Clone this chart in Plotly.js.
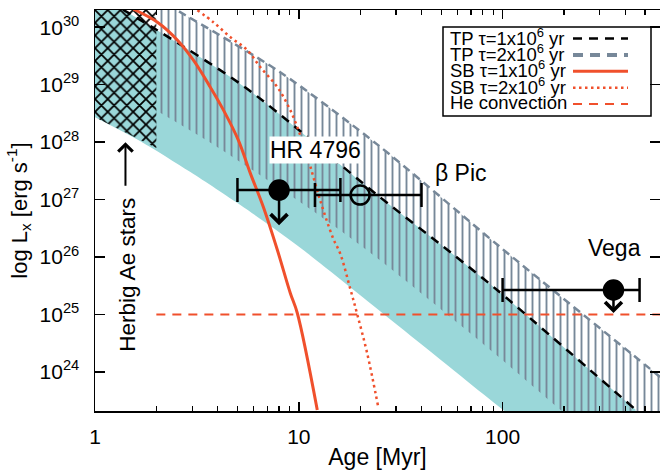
<!DOCTYPE html>
<html><head><meta charset="utf-8">
<script src="https://cdn.plot.ly/plotly-3.0.1.min.js"></script>
<style>html,body{margin:0;padding:0;background:#fff}#chart{width:660px;height:473px}</style>
</head><body><div id="chart"></div>
<script>
// ---------- data (age in Myr, log10 Lx in erg/s) ----------
const tp1Age      = [1.0, 2.02, 5.53, 24.3, 55.3, 94.0, 451];
const tp1LogL     = [30.59, 29.948, 28.939, 27.078, 26.087, 25.426, 23.339];
const tp1LowAge   = [1.0, 1.671, 2.939, 5.167, 7.499, 10.52, 100.6, 300];
const tp1LowLogL  = [28.435, 28.017, 27.478, 26.904, 26.504, 26.122, 23.339, 22.0];
const tp2Age      = [2.0, 2.78, 8.11, 24.5, 97.2, 436, 592];
const tp2LogL     = [30.5, 30.209, 29.217, 27.948, 26.174, 24.296, 23.913];
const tp2LowAge   = [2.0, 3.99, 11.0, 22.5, 61.9, 106.4, 185, 600];
const tp2LowLogL  = [28.55, 27.913, 26.870, 26.070, 24.817, 24.122, 23.391, 21.9];
const sb1Age      = [1.544, 2.024, 2.54, 3.04, 3.68, 4.27, 5.05, 5.78, 6.70, 7.85, 9.08, 9.83, 12.32];
const sb1LogL     = [30.313, 30.087, 29.774, 29.426, 28.957, 28.557, 28.035, 27.461, 26.870, 26.122, 25.374, 25.026, 23.339];
const sb2Age      = [3.18, 3.81, 4.62, 5.59, 6.48, 7.85, 9.08, 10.17, 11.0, 12.75, 14.76, 15.97, 17.88, 19.36, 21.67, 24.53];
const sb2LogL     = [30.296, 30.087, 29.826, 29.6, 29.304, 28.957, 28.557, 28.12, 27.76, 26.98, 26.32, 26.06, 25.45, 25.0, 24.32, 23.391];
const heAge       = [2, 592];
const heLogL      = [25, 25];
const herbigAge   = [1, 2];
const herbigLow   = [28.435, 27.9];
const herbigHigh  = [30.6, 30.6];
const starNames   = ['HR 4796', 'β Pic', 'Vega'];
const starAge     = [8, 20, 350];
const starAgeLo   = [5, 12, 100];
const starAgeHi   = [16, 40, 470];
const starLogL    = [27.165, 27.078, 25.426];
const starIsLimit = [true, false, true];
const limitDex    = [0.61, 0, 0.40];
const legendLabels = ['TP τ=1x10<sup>6</sup> yr', 'TP τ=2x10<sup>6</sup> yr',
                      'SB τ=1x10<sup>6</sup> yr', 'SB τ=2x10<sup>6</sup> yr', 'He convection'];
const yTickPow    = [24, 25, 26, 27, 28, 29, 30];
const xTickVals   = [1, 10, 100];
const xMinorVals  = [2,3,4,5,6,7,8,9,20,30,40,50,60,70,80,90,200,300,400,500];

// ---------- styles ----------
const FONT = 'Liberation Sans, Arial, Helvetica, sans-serif';
const CYAN = '#9ad7d9';
const SLATE = '#778899';
const RED = '#f0502c';
const pw = a => a.map(v => Math.pow(10, v));
const plotStyles = [
  {color: 'black', width: 2.5, dash: '9px,7px', shape: 'spline', smoothing: 0.8},
  {color: SLATE, width: 2.5, dash: '8px,5px', shape: 'spline', smoothing: 0.8},
  {color: RED, width: 3, dash: 'solid', shape: 'spline', smoothing: 1},
  {color: RED, width: 2.5, dash: '2.5px,3.5px', shape: 'spline', smoothing: 1},
  {color: RED, width: 2, dash: '9px,7px'}
];
const legendStyles = [
  {color: 'black', width: 2.5, dash: '9px,7px'},
  {color: SLATE, width: 4, dash: '10px,7px'},
  {color: RED, width: 3, dash: 'solid'},
  {color: RED, width: 2.5, dash: '2.5px,3.5px'},
  {color: RED, width: 2, dash: '9px,7px'}
];

// plot-area geometry (px) used to place legend decorations
const L = 95, W = 565, T = 10, H = 401;
const pxX = p => (p - L) / W;
const pxY = p => (T + H - p) / H;

const edge = {width: 0, shape: 'spline', smoothing: 0.8};
const traces = [
  // cyan band (TP tau=1e6 range)
  {x: tp1LowAge, y: pw(tp1LowLogL), mode: 'lines', line: edge, showlegend: false, hoverinfo: 'skip'},
  {x: tp1Age, y: pw(tp1LogL), mode: 'lines', line: edge, fill: 'tonexty', fillcolor: CYAN, showlegend: false, hoverinfo: 'skip'},
  // hatched band (TP tau=2e6 range)
  {x: tp2LowAge, y: pw(tp2LowLogL), mode: 'lines', line: edge, showlegend: false, hoverinfo: 'skip'},
  {x: tp2Age, y: pw(tp2LogL), mode: 'lines', line: edge, fill: 'tonexty', fillcolor: 'rgba(0,0,0,0)',
   fillpattern: {shape: '|', fgcolor: SLATE, bgcolor: 'rgba(0,0,0,0)', size: 7, solidity: 0.27},
   showlegend: false, hoverinfo: 'skip'},
  // Herbig Ae stars region
  {x: herbigAge, y: pw(herbigLow), mode: 'lines', line: {width: 0}, showlegend: false, hoverinfo: 'skip'},
  {x: herbigAge, y: pw(herbigHigh), mode: 'lines', line: {width: 0}, fill: 'tonexty', fillcolor: 'rgba(0,0,0,0)',
   fillpattern: {shape: 'x', fgcolor: 'black', bgcolor: 'rgba(0,0,0,0)', size: 9, solidity: 0.35},
   showlegend: false, hoverinfo: 'skip'},
  // model curves
  {x: tp1Age, y: pw(tp1LogL), mode: 'lines', line: plotStyles[0], name: 'TP τ=1x10⁶ yr', showlegend: false},
  {x: tp2Age, y: pw(tp2LogL), mode: 'lines', line: plotStyles[1], name: 'TP τ=2x10⁶ yr', showlegend: false},
  {x: sb1Age, y: pw(sb1LogL), mode: 'lines', line: plotStyles[2], name: 'SB τ=1x10⁶ yr', showlegend: false},
  {x: sb2Age, y: pw(sb2LogL), mode: 'lines', line: plotStyles[3], name: 'SB τ=2x10⁶ yr', showlegend: false},
  {x: heAge, y: pw(heLogL), mode: 'lines', line: plotStyles[4], name: 'He convection', showlegend: false},
  // stars
  {x: starAge, y: pw(starLogL), mode: 'markers', text: starNames, showlegend: false,
   marker: {size: 19, color: 'black', symbol: starIsLimit.map(u => u ? 'circle' : 'circle-open'),
            line: {color: 'black', width: 2.5}},
   error_x: {type: 'data', symmetric: false,
             array: starAgeHi.map((h, i) => h - starAge[i]),
             arrayminus: starAgeLo.map((l, i) => starAge[i] - l),
             color: 'black', thickness: 2.5, width: 12}}
];

const annotations = [];
// upper-limit arrows
starAge.forEach((a, i) => {
  if (!starIsLimit[i]) return;
  annotations.push({x: Math.log10(a), y: starLogL[i] - limitDex[i], xref: 'x', yref: 'y',
    ax: Math.log10(a), ay: starLogL[i], axref: 'x', ayref: 'y', text: '', showarrow: true,
    arrowhead: 4, arrowsize: 1.3, arrowwidth: 2.5, arrowcolor: 'black', font: {size: 1}});
});
// star labels
annotations.push({x: 1.081, y: 27.861, xref: 'x', yref: 'y', text: starNames[0], showarrow: false,
  font: {family: FONT, size: 23, color: 'black'}, bgcolor: 'white', borderpad: 0});
annotations.push({x: 1.659, y: 27.461, xref: 'x', yref: 'y', text: starNames[1], showarrow: false, xanchor: 'left',
  font: {family: FONT, size: 23, color: 'black'}});
annotations.push({x: 2.551, y: 26.157, xref: 'x', yref: 'y', text: starNames[2], showarrow: false,
  font: {family: FONT, size: 23, color: 'black'}});
// Herbig Ae stars label + arrow
annotations.push({x: 0.159, y: 25.70, xref: 'x', yref: 'y', text: 'Herbig Ae stars', textangle: -90, showarrow: false,
  font: {family: FONT, size: 22.5, color: 'black'}});
annotations.push({x: 0.1495, y: 28.0, xref: 'x', yref: 'y', ax: 0, ay: 45, text: '', showarrow: true,
  arrowhead: 4, arrowsize: 1.4, arrowwidth: 2, arrowcolor: 'black', font: {size: 1}});
// legend box, keys and texts
const shapes = [{type: 'rect', xref: 'paper', yref: 'paper', x0: pxX(443), x1: pxX(651), y0: pxY(27), y1: pxY(116),
  line: {color: 'black', width: 1.5}, fillcolor: 'white', layer: 'below'}];
legendLabels.forEach((t, i) => {
  const yc = 38.5 + 16.4 * i;
  annotations.push({x: pxX(448), y: pxY(yc - 2), xref: 'paper', yref: 'paper', text: t, showarrow: false,
    xanchor: 'left', yanchor: 'middle', font: {family: FONT, size: 18.5, color: 'black'}});
  shapes.push({type: 'line', xref: 'paper', yref: 'paper', x0: pxX(573), x1: pxX(628), y0: pxY(yc), y1: pxY(yc),
    line: legendStyles[i], layer: 'above'});
});

const axisCommon = {showline: true, linecolor: 'black', linewidth: 1.5, mirror: 'ticks', ticks: 'inside',
  tickcolor: 'black', tickwidth: 1.5, showgrid: false, zeroline: false,
  tickfont: {family: FONT, size: 21, color: 'black'}};

const layout = {
  width: 660, height: 473, margin: {l: L, r: 0, t: T, b: 473 - T - H},
  paper_bgcolor: 'white', plot_bgcolor: 'white', showlegend: false,
  font: {family: FONT, color: 'black'},
  xaxis: Object.assign({}, axisCommon, {type: 'log', range: [0, Math.log10(592)],
    tickmode: 'array', tickvals: xTickVals, ticktext: xTickVals.map(String), ticklen: 9,
    ticklabelstandoff: 6,
    minor: {tickmode: 'array', tickvals: xMinorVals, ticks: 'inside', ticklen: 5, tickwidth: 1.2, tickcolor: 'black'},
    title: {text: 'Age [Myr]', font: {family: FONT, size: 23, color: 'black'}, standoff: 2}}),
  yaxis: Object.assign({}, axisCommon, {type: 'log', range: [23.32, 30.3],
    tickmode: 'array', tickvals: pw(yTickPow), ticktext: yTickPow.map(p => '10<sup>' + p + '</sup>'), ticklen: 10,
    ticklabelstandoff: 10,
    title: {text: 'log L<sub>x</sub> [erg s<sup>-1</sup>]', font: {family: FONT, size: 22, color: 'black'}, standoff: 6}}),
  annotations: annotations,
  shapes: shapes
};

Plotly.newPlot('chart', traces, layout, {staticPlot: true, displayModeBar: false});
</script></body></html>
